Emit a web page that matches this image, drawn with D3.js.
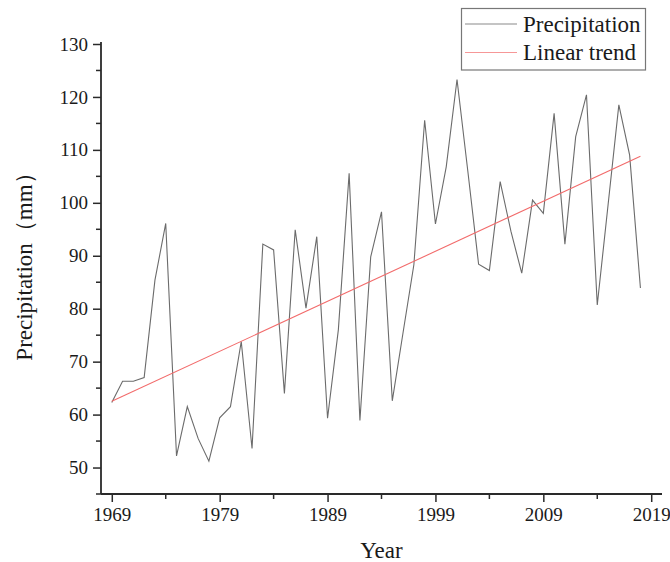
<!DOCTYPE html>
<html>
<head>
<meta charset="utf-8">
<script src="https://cdn.jsdelivr.net/npm/d3@7/dist/d3.min.js"></script>
<style>
  html, body { margin: 0; padding: 0; background: #fff; }
  svg { display: block; }
  text { font-family: "Liberation Serif", "Times New Roman", serif; fill: #1a1a1a; }
</style>
</head>
<body>
<svg id="chart" width="670" height="562"></svg>
<script>
// Annual precipitation (mm), 1969–2018
const years = [1969,1970,1971,1972,1973,1974,1975,1976,1977,1978,
               1979,1980,1981,1982,1983,1984,1985,1986,1987,1988,
               1989,1990,1991,1992,1993,1994,1995,1996,1997,1998,
               1999,2000,2001,2002,2003,2004,2005,2006,2007,2008,
               2009,2010,2011,2012,2013,2014,2015,2016,2017,2018];
const precipitation = [62.3,66.3,66.3,67.0,85.4,96.1,52.2,61.5,55.5,51.2,
                       59.4,61.5,73.8,53.6,92.2,91.1,64.0,94.9,80.1,93.6,
                       59.3,76.0,105.6,58.9,89.8,98.3,62.6,75.5,88.3,115.6,
                       96.0,106.8,123.3,106.0,88.4,87.2,104.0,94.6,86.7,100.5,
                       98.0,116.9,92.2,112.5,120.4,80.7,99.6,118.5,109.0,83.9];
// Linear trend endpoints
const trendYears = [1969, 2018];
const trendValues = [62.5, 108.8];

const xTicks = [1969, 1979, 1989, 1999, 2009, 2019];
const xMinorTicks = [1974, 1984, 1994, 2004, 2014];
const yTicks = [50, 60, 70, 80, 90, 100, 110, 120, 130];
const yMinorTicks = [45, 55, 65, 75, 85, 95, 105, 115, 125];

const legendLabels = ["Precipitation", "Linear trend"];
const colors = { precip: "#6b6b6b", trend: "#f26b6b" };
const serif = '"Liberation Serif", "Times New Roman", serif';

const svg = d3.select("#chart");
const plot = { left: 101, right: 662, top: 44, bottom: 494 };

const x = d3.scaleLinear().domain([1968, 2020]).range([plot.left, plot.right]);
const y = d3.scaleLinear().domain([45, 130]).range([plot.bottom, plot.top]);

// Lines
const line = d3.line().x(d => x(d[0])).y(d => y(d[1]));

svg.append("path")
  .datum(years.map((yr, i) => [yr, precipitation[i]]))
  .attr("d", line)
  .attr("fill", "none")
  .attr("stroke", colors.precip)
  .attr("stroke-width", 1.1)
  .attr("stroke-linejoin", "miter");

svg.append("path")
  .datum(trendYears.map((yr, i) => [yr, trendValues[i]]))
  .attr("d", line)
  .attr("fill", "none")
  .attr("stroke", colors.trend)
  .attr("stroke-width", 1.1);

// Axes
const xAxis = svg.append("g")
  .attr("transform", `translate(0,${plot.bottom})`)
  .call(d3.axisBottom(x).tickValues(xTicks).tickFormat(d3.format("d")).tickSize(8).tickPadding(6));
xAxis.append("g").selectAll("line").data(xMinorTicks).join("line")
  .attr("x1", d => x(d)).attr("x2", d => x(d)).attr("y1", 0).attr("y2", 5);

const yAxis = svg.append("g")
  .attr("transform", `translate(${plot.left},0)`)
  .call(d3.axisLeft(y).tickValues(yTicks).tickSize(8).tickPadding(5));
yAxis.append("g").selectAll("line").data(yMinorTicks).join("line")
  .attr("x1", 0).attr("x2", -5).attr("y1", d => y(d)).attr("y2", d => y(d));

[xAxis, yAxis].forEach(g => {
  g.attr("font-family", serif).attr("font-size", 19);
  g.select(".domain").remove();
  g.selectAll("line").attr("stroke", "#2a2a2a").attr("stroke-width", 1.5);
  g.selectAll("text").attr("fill", "#1a1a1a");
});
// Axis spines
svg.append("line").attr("x1", plot.left).attr("x2", plot.right)
  .attr("y1", plot.bottom).attr("y2", plot.bottom)
  .attr("stroke", "#2a2a2a").attr("stroke-width", 1.8);
svg.append("line").attr("x1", plot.left).attr("x2", plot.left)
  .attr("y1", plot.top - 2).attr("y2", plot.bottom)
  .attr("stroke", "#2a2a2a").attr("stroke-width", 1.8);

// Axis titles
svg.append("text")
  .attr("x", (plot.left + plot.right) / 2).attr("y", 558)
  .attr("text-anchor", "middle")
  .style("font-size", "23px")
  .text("Year");

svg.append("text")
  .attr("transform", `translate(32,261) rotate(-90)`)
  .attr("text-anchor", "middle")
  .style("font-size", "23px")
  .text("Precipitation（mm）");

// Legend
const lg = svg.append("g");
lg.append("rect")
  .attr("x", 461.5).attr("y", 8.5).attr("width", 184).attr("height", 61.5)
  .attr("fill", "#fff").attr("stroke", "#777").attr("stroke-width", 1.2);
const legendColors = [colors.precip, colors.trend];
legendLabels.forEach((lab, i) => {
  const cy = 24 + i * 28.5;
  lg.append("line").attr("x1", 465).attr("x2", 517).attr("y1", cy).attr("y2", cy)
    .attr("stroke", legendColors[i]).attr("stroke-width", 1.1)
    .attr("stroke-opacity", i === 1 ? 0.7 : 0.8);
  lg.append("text").attr("x", 523).attr("y", cy + 7.5)
    .style("font-size", "23px").text(lab);
});
</script>
</body>
</html>
